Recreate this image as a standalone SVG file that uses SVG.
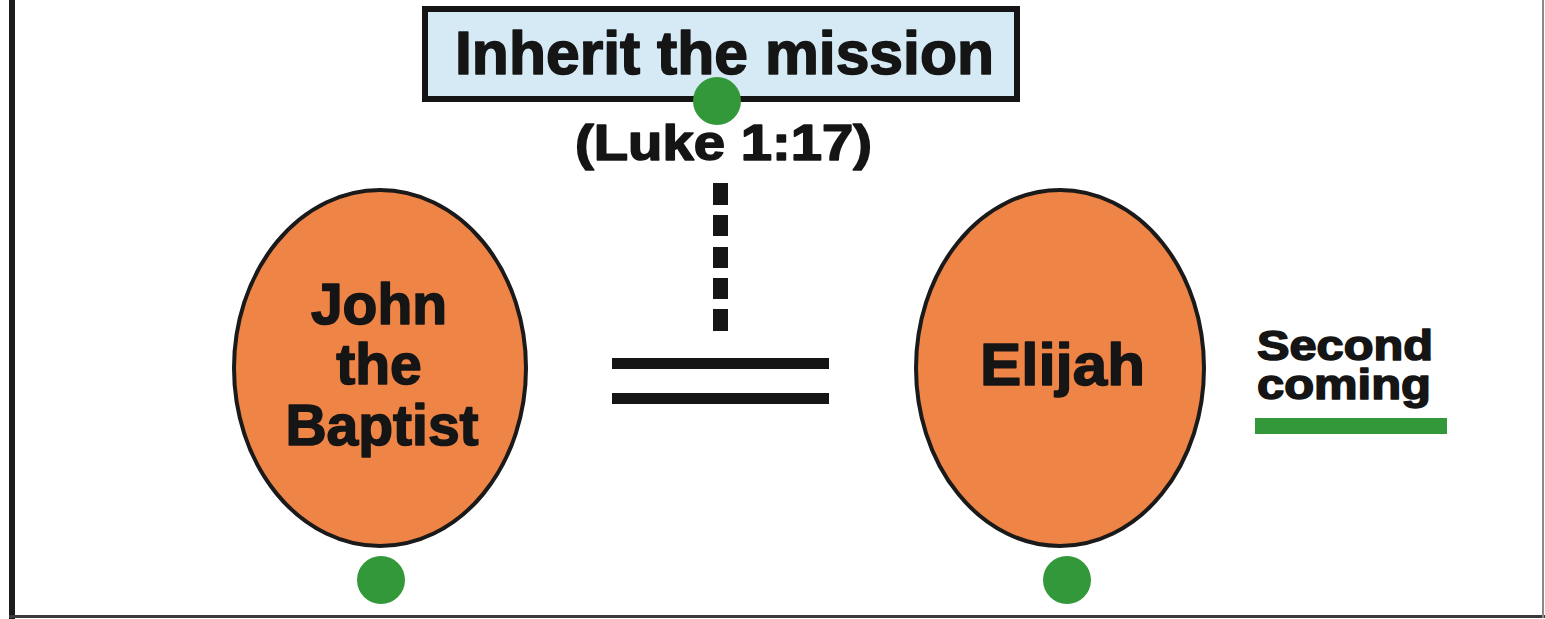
<svg xmlns="http://www.w3.org/2000/svg" width="1545" height="619" viewBox="0 0 1545 619">
  <style>
    .lbl { font-family: "Liberation Sans", Arial, sans-serif; font-weight: bold; fill: #151515; stroke: #151515; stroke-width: 1.6; stroke-linejoin: round; }
    .oval { fill: #ef8447; stroke: #1a1a1a; stroke-width: 4; }
    .dot { fill: #32983a; }
    .bar { fill: #151515; }
  </style>
  <rect x="0" y="0" width="1545" height="619" fill="#ffffff"/>
  <g id="frame">
    <rect x="9" y="0" width="6" height="619" fill="#1c1c1c"/>
    <rect x="9" y="615" width="1536" height="3" fill="#3a3a3a"/>
    <rect x="1542" y="0" width="2" height="618" fill="#8a8a8a"/>
  </g>
  <g id="connectors">
    <g id="dashed-link">
      <rect class="bar" x="713" y="183" width="15" height="22"/>
      <rect class="bar" x="713" y="215" width="15" height="21"/>
      <rect class="bar" x="713" y="247" width="15" height="21"/>
      <rect class="bar" x="713" y="278" width="15" height="21"/>
      <rect class="bar" x="713" y="309" width="15" height="22"/>
    </g>
    <g id="equals">
      <rect class="bar" x="612" y="358" width="217" height="11"/>
      <rect class="bar" x="612" y="393" width="217" height="11"/>
    </g>
  </g>
  <g id="node-mission">
    <rect x="425" y="9" width="592" height="90" fill="#d5eaf5" stroke="#151515" stroke-width="6"/>
    <text class="lbl" x="455" y="74" font-size="62" textLength="539" lengthAdjust="spacingAndGlyphs">Inherit the mission</text>
  </g>
  <g id="label-luke">
    <text class="lbl" x="575" y="160" font-size="50" textLength="297" lengthAdjust="spacingAndGlyphs">(Luke 1:17)</text>
  </g>
  <g id="node-john">
    <ellipse class="oval" cx="380" cy="368" rx="146" ry="178"/>
    <text class="lbl" font-size="57" text-anchor="middle"><tspan x="379" y="324">John</tspan><tspan x="379" y="384">the</tspan><tspan x="382" y="445">Baptist</tspan></text>
  </g>
  <g id="node-elijah">
    <ellipse class="oval" cx="1060" cy="368" rx="144" ry="178"/>
    <text class="lbl" x="980" y="385" font-size="60" textLength="165" lengthAdjust="spacingAndGlyphs">Elijah</text>
  </g>
  <g id="node-second-coming">
    <text class="lbl" font-size="42"><tspan x="1257" y="360" textLength="176" lengthAdjust="spacingAndGlyphs">Second</tspan><tspan x="1257" y="399" textLength="174" lengthAdjust="spacingAndGlyphs">coming</tspan></text>
    <rect x="1255" y="418" width="192" height="16" fill="#32983a"/>
  </g>
  <g id="markers">
    <circle class="dot" cx="717" cy="101" r="24"/>
    <circle class="dot" cx="381" cy="580" r="24"/>
    <circle class="dot" cx="1067" cy="580" r="24"/>
  </g>
</svg>
